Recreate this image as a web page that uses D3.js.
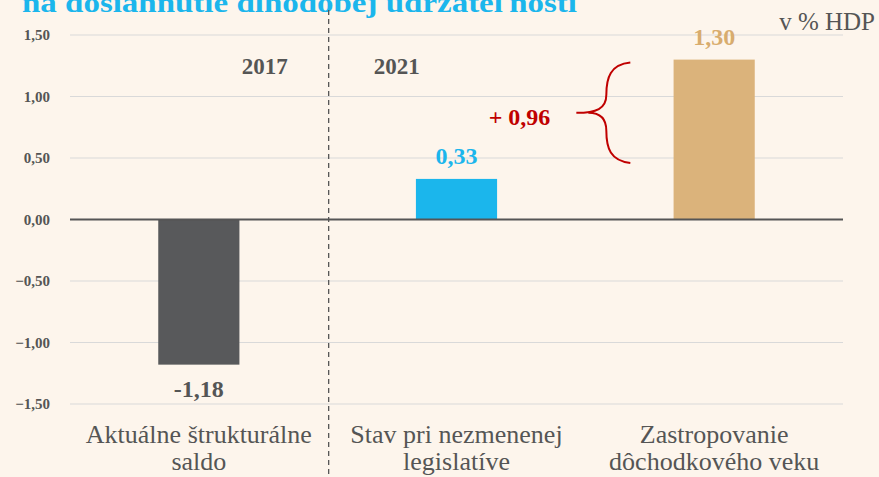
<!DOCTYPE html>
<html>
<head>
<meta charset="utf-8">
<script src="https://cdn.jsdelivr.net/npm/d3@7"></script>
<style>
  body { margin:0; background:#fdf5ec; }
  svg { display:block; }
</style>
</head>
<body>
<div id="chart"></div>
<script>
var categories = [['Aktuálne štrukturálne', 'saldo'], ['Stav pri nezmenenej', 'legislatíve'], ['Zastropovanie', 'dôchodkového veku']]
var values     = [-1.18, 0.33, 1.30]
var valueText  = ['-1,18', '0,33', '1,30']
var colors     = ['#58595b', '#1bb6ec', '#dbb37b']
var labelColors = ['#555555', '#1bb6ec', '#d8ac6e']
var yTicks     = [-1.5, -1, -0.5, 0, 0.5, 1, 1.5]
var years      = ['2017', '2021']
var diffText   = '+ 0,96'

var w = 879, h = 477
var m = { top:35, right:36, bottom:73, left:70 }
var serif = '"Liberation Serif", "DejaVu Serif", serif'
var fmt = d=> d3.format('.2f')(d).replace('.', ',')

var svg = d3.select('#chart').append('svg')
    .attr('width', w)
    .attr('height', h)

svg.append('rect').attr('width', w).attr('height', h).attr('fill', '#fdf5ec')

var x = d3.scaleBand()
    .domain(d3.range(categories.length))
    .range([m.left, w - m.right])

var y = d3.scaleLinear()
    .domain([-1.5, 1.5])
    .range([h - m.bottom, m.top])

var barW = x.bandwidth() * 0.315

// title, cut off by the top edge as in the original slide
svg.append('text')
    .attr('x', 22).attr('y', 12)
    .attr('font-family', serif)
    .attr('font-weight', 'bold')
    .attr('font-size', 27)
    .attr('textLength', 555)
    .attr('lengthAdjust', 'spacingAndGlyphs')
    .attr('fill', '#1bb6ec')
    .text('na dosiahnutie dlhodobej udržateľnosti')

// grid
svg.append('g').selectAll('line')
    .data(yTicks.filter(d=> d !== 0))
    .join('line')
    .attr('x1', m.left).attr('x2', w - m.right)
    .attr('y1', d=> y(d)).attr('y2', d=> y(d))
    .attr('stroke', '#d9d9d9').attr('stroke-width', 1)

// y axis labels
var yAxis = d3.axisLeft(y).tickValues(yTicks).tickFormat(fmt).tickSize(0).tickPadding(20)
var ya = svg.append('g')
    .attr('transform', 'translate(' + m.left + ',0)')
    .call(yAxis)
ya.select('.domain').remove()
ya.selectAll('text')
    .attr('font-family', serif)
    .attr('font-weight', 'bold')
    .attr('font-size', 15)
    .attr('fill', '#555')

// separator
svg.append('line')
    .attr('x1', x(1) + 1).attr('x2', x(1) + 1)
    .attr('y1', 10).attr('y2', h)
    .attr('stroke', '#555').attr('stroke-width', 1.3)
    .attr('stroke-dasharray', '5 4')

// bars
svg.append('g').selectAll('rect')
    .data(values)
    .join('rect')
    .attr('x', (d, i)=> x(i) + x.bandwidth()/2 - barW/2)
    .attr('width', barW)
    .attr('y', d=> y(Math.max(0, d)))
    .attr('height', d=> Math.abs(y(d) - y(0)))
    .attr('fill', (d, i)=> colors[i])

// zero line
svg.append('line')
    .attr('x1', m.left).attr('x2', w - m.right)
    .attr('y1', y(0)).attr('y2', y(0))
    .attr('stroke', '#555').attr('stroke-width', 2)

// value labels
svg.append('g').selectAll('text')
    .data(values)
    .join('text')
    .attr('x', (d, i)=> x(i) + x.bandwidth()/2)
    .attr('y', d=> d < 0 ? y(d) + 32 : y(d) - 15)
    .attr('text-anchor', 'middle')
    .attr('font-family', serif)
    .attr('font-weight', 'bold')
    .attr('font-size', 24)
    .attr('fill', (d, i)=> labelColors[i])
    .text((d, i)=> valueText[i])

// years
svg.append('g').selectAll('text')
    .data(years)
    .join('text')
    .attr('x', (d, i)=> i === 0 ? x(1) - 40 : x(1) + 46)
    .attr('y', 74)
    .attr('text-anchor', (d, i)=> i === 0 ? 'end' : 'start')
    .attr('font-family', serif)
    .attr('font-weight', 'bold')
    .attr('font-size', 23)
    .attr('fill', '#555')
    .text(d=> d)

// unit
svg.append('text')
    .attr('x', w - 4).attr('y', 30)
    .attr('text-anchor', 'end')
    .attr('font-family', serif)
    .attr('font-size', 25)
    .attr('fill', '#555')
    .text('v % HDP')

// brace between 0,33 and 1,30
var bx = x(2) + 43, bt = y(values[2]) + 3, bb = y(values[1]) - 16, bm = (bt + bb) / 2
svg.append('path')
    .attr('d', 'M' + (bx + 2) + ',' + bt +
               ' C' + (bx - 18) + ',' + (bt + 2) + ' ' + (bx - 22) + ',' + (bt + 15) + ' ' + (bx - 22) + ',' + (bm - 18) +
               ' C' + (bx - 22) + ',' + (bm - 4) + ' ' + (bx - 32) + ',' + bm + ' ' + (bx - 52) + ',' + bm +
               ' M' + (bx - 40) + ',' + bm +
               ' C' + (bx - 30) + ',' + bm + ' ' + (bx - 22) + ',' + (bm + 4) + ' ' + (bx - 22) + ',' + (bm + 18) +
               ' C' + (bx - 22) + ',' + (bb - 15) + ' ' + (bx - 18) + ',' + (bb - 2) + ' ' + (bx + 2) + ',' + bb)
    .attr('fill', 'none')
    .attr('stroke', '#c00000')
    .attr('stroke-width', 2)

svg.append('text')
    .attr('x', bx - 78).attr('y', bm + 12)
    .attr('text-anchor', 'end')
    .attr('font-family', serif)
    .attr('font-weight', 'bold')
    .attr('font-size', 24)
    .attr('fill', '#c00000')
    .text(diffText)

// category labels
var cat = svg.append('g').selectAll('text')
    .data(categories)
    .join('text')
    .attr('x', (d, i)=> x(i) + x.bandwidth()/2)
    .attr('y', h - 34)
    .attr('text-anchor', 'middle')
    .attr('font-family', serif)
    .attr('font-size', 26)
    .attr('fill', '#555')
cat.selectAll('tspan')
    .data(d=> d)
    .join('tspan')
    .attr('x', function() { return d3.select(this.parentNode).attr('x') })
    .attr('dy', (d, i)=> i === 0 ? 0 : 27)
    .text(d=> d)
</script>
</body>
</html>
